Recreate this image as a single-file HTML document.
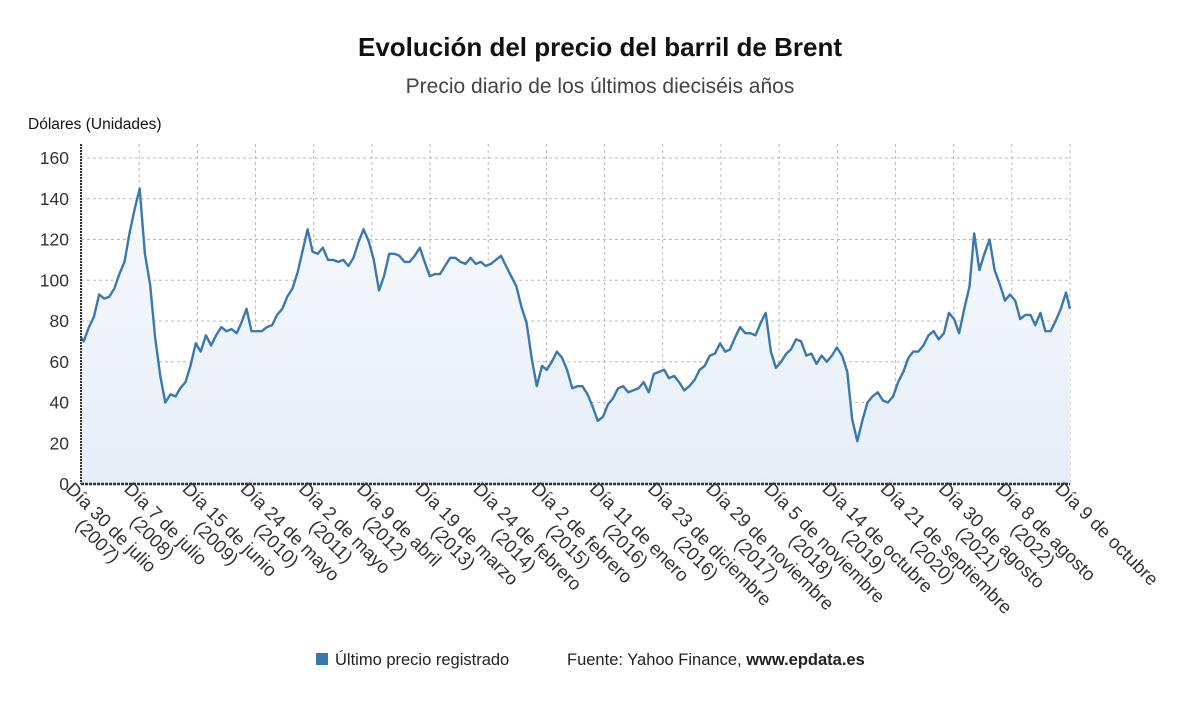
<!DOCTYPE html>
<html><head><meta charset="utf-8"><style>
body{margin:0;background:#fff;font-family:"Liberation Sans",sans-serif;}
svg text{font-family:"Liberation Sans",sans-serif;}
</style></head><body>
<svg id="chart" width="1200" height="705">
<defs><linearGradient id="g" x1="0" y1="0" x2="0" y2="1"><stop offset="0" stop-color="#f8fbff"/><stop offset="1" stop-color="#e6edf7"/></linearGradient></defs>
<text x="600" y="56" text-anchor="middle" font-size="26" font-weight="bold" fill="#111">Evolución del precio del barril de Brent</text>
<text x="600" y="93" text-anchor="middle" font-size="21" fill="#444">Precio diario de los últimos dieciséis años</text>
<text x="28" y="129" font-size="15.5" fill="#111">Dólares (Unidades)</text>
<g id="grid"></g><g id="plot"></g><g id="axes"></g>
<g>
<rect x="316" y="653" width="12" height="12" fill="#3a78b0"/>
<text x="335" y="665" font-size="16.5" fill="#222">Último precio registrado</text>
<text x="567" y="665" font-size="16.5" fill="#222">Fuente: Yahoo Finance, <tspan font-weight="bold">www.epdata.es</tspan></text>
</g>
</svg>
<script>
const yTicks=[0,20,40,60,80,100,120,140,160];
const xLabels=[["Día 30 de julio","(2007)"],["Día 7 de julio","(2008)"],["Día 15 de junio","(2009)"],["Día 24 de mayo","(2010)"],["Día 2 de mayo","(2011)"],["Día 9 de abril","(2012)"],["Día 19 de marzo","(2013)"],["Día 24 de febrero","(2014)"],["Día 2 de febrero","(2015)"],["Día 11 de enero","(2016)"],["Día 23 de diciembre","(2016)"],["Día 29 de noviembre","(2017)"],["Día 5 de noviembre","(2018)"],["Día 14 de octubre","(2019)"],["Día 21 de septiembre","(2020)"],["Día 30 de agosto","(2021)"],["Día 8 de agosto","(2022)"],["Día 9 de octubre",""]];
const startMonth=[2007,7]; // first value = Aug 2007
const prices=[70,77,82,93,91,
92,96,103,109,123,135,145,113,98,72,53,40,
44,43,47,50,58,69,65,73,68,73,77,75,
76,74,79,86,75,75,75,77,78,83,86,92,
96,104,114,125,114,113,116,110,110,109,110,107,
111,119,125,119,110,95,102,113,113,112,109,109,
112,116,109,102,103,103,107,111,111,109,108,111,
108,109,107,108,110,112,107,102,97,87,79,62,
48,58,56,60,65,62,56,47,48,48,44,38,
31,33,39,42,47,48,45,46,47,50,45,54,
55,56,52,53,50,46,48,51,56,58,63,64,
69,65,66,72,77,74,74,73,79,84,65,57,
60,64,66,71,70,63,64,59,63,60,63,67,
63,55,32,21,31,40,43,45,41,40,43,50,
55,62,65,65,68,73,75,71,74,84,81,74,
86,97,123,105,113,120,105,98,90,93,90,81,
83,83,78,84,75,75,80,86,94,86];
const X0=81,X1=1070,Y0=484,Y160=158;
const t0=Date.UTC(2007,6,30),t1=Date.UTC(2023,9,9);
const xs=t=>X0+(t-t0)/(t1-t0)*(X1-X0);
const ys=v=>Y0-v/160*(Y0-Y160);
const NS="http://www.w3.org/2000/svg";
function mk(tag,attrs,parent){const e=document.createElementNS(NS,tag);for(const k in attrs)e.setAttribute(k,attrs[k]);parent.appendChild(e);return e;}
const grid=document.getElementById('grid'),plot=document.getElementById('plot'),axes=document.getElementById('axes');
yTicks.forEach(v=>{
 const l=mk('line',{x1:X0,x2:X1,y1:ys(v),y2:ys(v),stroke:'#bbb','stroke-dasharray':'3,3'},grid);
 
 
 const t=mk('text',{x:X0-12,y:ys(v)+6,'text-anchor':'end','font-size':17.5,fill:'#333'},axes);
 t.textContent=v;
 
 
});
xLabels.forEach((lab,i)=>{
 const x=X0+i*(X1-X0)/(xLabels.length-1);
 const l=mk('line',{x1:x,x2:x,y1:Y160-14,y2:Y0,stroke:'#bbb','stroke-dasharray':'3,3'},grid);
 
 
 const g=mk('g',{transform:`translate(${x-16},${Y0+6}) rotate(45)`},axes);
 
 
 const t1e=mk('text',{x:0,y:0,'font-size':18.5,fill:'#333'},g);t1e.textContent=lab[0];
 const w=t1e.getComputedTextLength();
 const t2e=mk('text',{x:w/2,y:19,'text-anchor':'middle','font-size':18.5,fill:'#333'},g);t2e.textContent=lab[1];
});
const pts=prices.map((v,i)=>{const m=startMonth[1]+i;const t=Date.UTC(startMonth[0]+Math.floor(m/12),m%12,15);return [Math.min(X1,xs(t)),ys(v)];});
let d=pts.map((p,i)=>(i?'L':'M')+p[0].toFixed(1)+','+p[1].toFixed(1)).join('');
const area=mk('path',{d:`M${X0},${Y0}L${X0},${pts[0][1]}`+d.replace(/^M/,'L')+`L${pts[pts.length-1][0]},${Y0}Z`,fill:'url(#g)'},plot);


const line=mk('path',{d:`M${X0},${ys(72)}`+d.replace(/^M/,'L'),fill:'none',stroke:'#3a78b0','stroke-width':2.4,'stroke-linejoin':'round'},plot);


const ax=mk('line',{x1:X0,x2:X0,y1:Y160-14,y2:Y0,stroke:'#333','stroke-width':2,'stroke-dasharray':'2,1'},axes);


const bx=mk('line',{x1:X0,x2:X1,y1:Y0,y2:Y0,stroke:'#333','stroke-width':2.5,'stroke-dasharray':'3,1'},axes);


</script>
</body></html>
